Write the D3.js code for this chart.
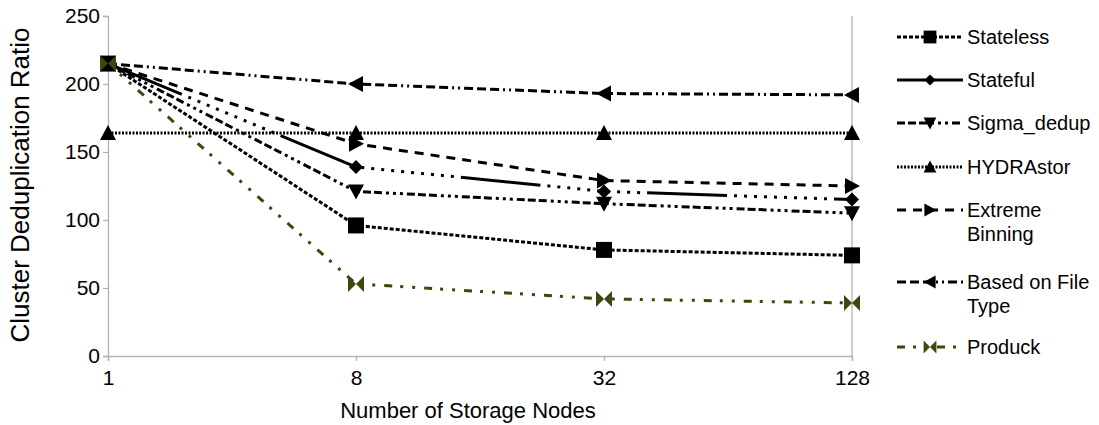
<!DOCTYPE html>
<head>
  <meta charset="utf-8">
  <title>Cluster Deduplication Ratio</title>
  <style>
    body { margin: 0; background: #fff; }
    svg { font-family: "Liberation Sans", Arial, sans-serif; }
  </style>
</head>
<body>
<svg width="1099" height="425"></svg>
<script src="https://d3js.org/d3.v7.min.js"></script>
<script>

// data
var nodes = ["1", "8", "32", "128"];
var stateless = [215, 96, 78, 74];
var stateful = [215, 139, 121, 115];
var sigmaDedup = [215, 121, 112, 105];
var hydrastor = [164, 164, 164, 164];
var extremeBinning = [215, 156, 129, 125];
var fileType = [215, 200, 193, 192];
var produck = [215, 53, 42, 39];
var yTicks = [0, 50, 100, 150, 200, 250];

var series = [
  {name: ["Stateless"], values: stateless, color: "#000", dash: "4,2", marker: "square"},
  {name: ["Stateful"], values: stateful, color: "#000", dash: "80,7,3,7,3,7,3,7,3,7,3,7,3,7,3,7,3,7,3,7,3,7", marker: "diamond"},
  {name: ["Sigma_dedup"], values: sigmaDedup, color: "#000", dash: "8,3,8,3,8,4,3,4,3,4,3,4", marker: "down"},
  {name: ["HYDRAstor"], values: hydrastor, color: "#000", dash: "2,1.5", marker: "up"},
  {name: ["Extreme", "Binning"], values: extremeBinning, color: "#000", dash: "9,7", marker: "right"},
  {name: ["Based on File", "Type"], values: fileType, color: "#000", dash: "9,4,9,4,9,4,2,4,2,4", marker: "left"},
  {name: ["Produck"], values: produck, color: "#3b4a0c", dash: "8,8,3,9,3,9", marker: "bowtie"}
];

var svg = d3.select("svg");

var x = d3.scalePoint().domain(nodes).range([108, 852]);
var y = d3.scaleLinear().domain([0, 250]).range([356, 16]);

var axisColor = "#b3b3b3";
var fontFam = "Liberation Sans, Arial, sans-serif";

// y axis
var yAxis = svg.append("g")
    .attr("transform", "translate(108,0)")
    .call(d3.axisLeft(y).tickValues(yTicks).tickSize(5).tickPadding(3));
yAxis.select(".domain").attr("stroke", axisColor).attr("stroke-width", 1.3);
yAxis.selectAll(".tick line").attr("stroke", axisColor).attr("stroke-width", 1.3);
yAxis.selectAll(".tick text").attr("font-size", 21).attr("fill", "#000")
    .attr("font-family", fontFam);

// x axis
var xAxis = svg.append("g")
    .attr("transform", "translate(0,356)")
    .call(d3.axisBottom(x).tickSize(5).tickPadding(9));
xAxis.select(".domain").attr("stroke", axisColor).attr("stroke-width", 1.3);
xAxis.selectAll(".tick line").attr("stroke", axisColor).attr("stroke-width", 1.3);
xAxis.selectAll(".tick text").attr("font-size", 21).attr("fill", "#000")
    .attr("font-family", fontFam);

// right border line
svg.append("line")
    .attr("x1", x("128")).attr("x2", x("128"))
    .attr("y1", y(250)).attr("y2", y(0))
    .attr("stroke", axisColor).attr("stroke-width", 1.3);

// axis titles
svg.append("text")
    .attr("transform", "translate(29,185) rotate(-90)")
    .attr("text-anchor", "middle")
    .attr("font-size", 26)
    .text("Cluster Deduplication Ratio");

svg.append("text")
    .attr("x", 468).attr("y", 418)
    .attr("text-anchor", "middle")
    .attr("font-size", 22)
    .text("Number of Storage Nodes");

function markerPath(type) {
  switch (type) {
    case "square": return "M-8,-8H8V8H-8Z";
    case "diamond": return "M0,-7L7,0L0,7L-7,0Z";
    case "down": return "M-8,-7H8L0,8Z";
    case "up": return "M-8,7H8L0,-8Z";
    case "right": return "M-7,-8L8,0L-7,8Z";
    case "left": return "M7,-8L-8,0L7,8Z";
    case "bowtie": return "M-8,-8L0,0L-8,8ZM8,-8L0,0L8,8Z";
  }
}

var line = d3.line()
    .x(function(d, i) { return x(nodes[i]); })
    .y(function(d) { return y(d); });

var plot = svg.append("g");

series.forEach(function(s) {
  plot.append("path")
      .attr("d", line(s.values))
      .attr("fill", "none")
      .attr("stroke", s.color)
      .attr("stroke-width", 3)
      .attr("stroke-dasharray", s.dash);
});

series.forEach(function(s) {
  plot.selectAll(null)
      .data(s.values)
      .enter().append("path")
      .attr("transform", function(d, i) { return "translate(" + x(nodes[i]) + "," + y(d) + ")"; })
      .attr("d", markerPath(s.marker))
      .attr("fill", s.color);
});

// legend
var legendY = [37, 80, 123, 167, 210, 282, 347];
var legend = svg.append("g");

series.forEach(function(s, i) {
  var g = legend.append("g").attr("transform", "translate(0," + legendY[i] + ")");
  g.append("line")
      .attr("x1", 897).attr("x2", 963)
      .attr("stroke", s.color)
      .attr("stroke-width", 3)
      .attr("stroke-dasharray", s.dash);
  g.append("path")
      .attr("transform", "translate(930,0) scale(0.8)")
      .attr("d", markerPath(s.marker))
      .attr("fill", s.color);
  s.name.forEach(function(t, j) {
    g.append("text")
        .attr("x", 967).attr("y", j * 24)
        .attr("dy", "0.35em")
        .attr("font-size", 20)
        .text(t);
  });
});

</script>
</body>
</html>
